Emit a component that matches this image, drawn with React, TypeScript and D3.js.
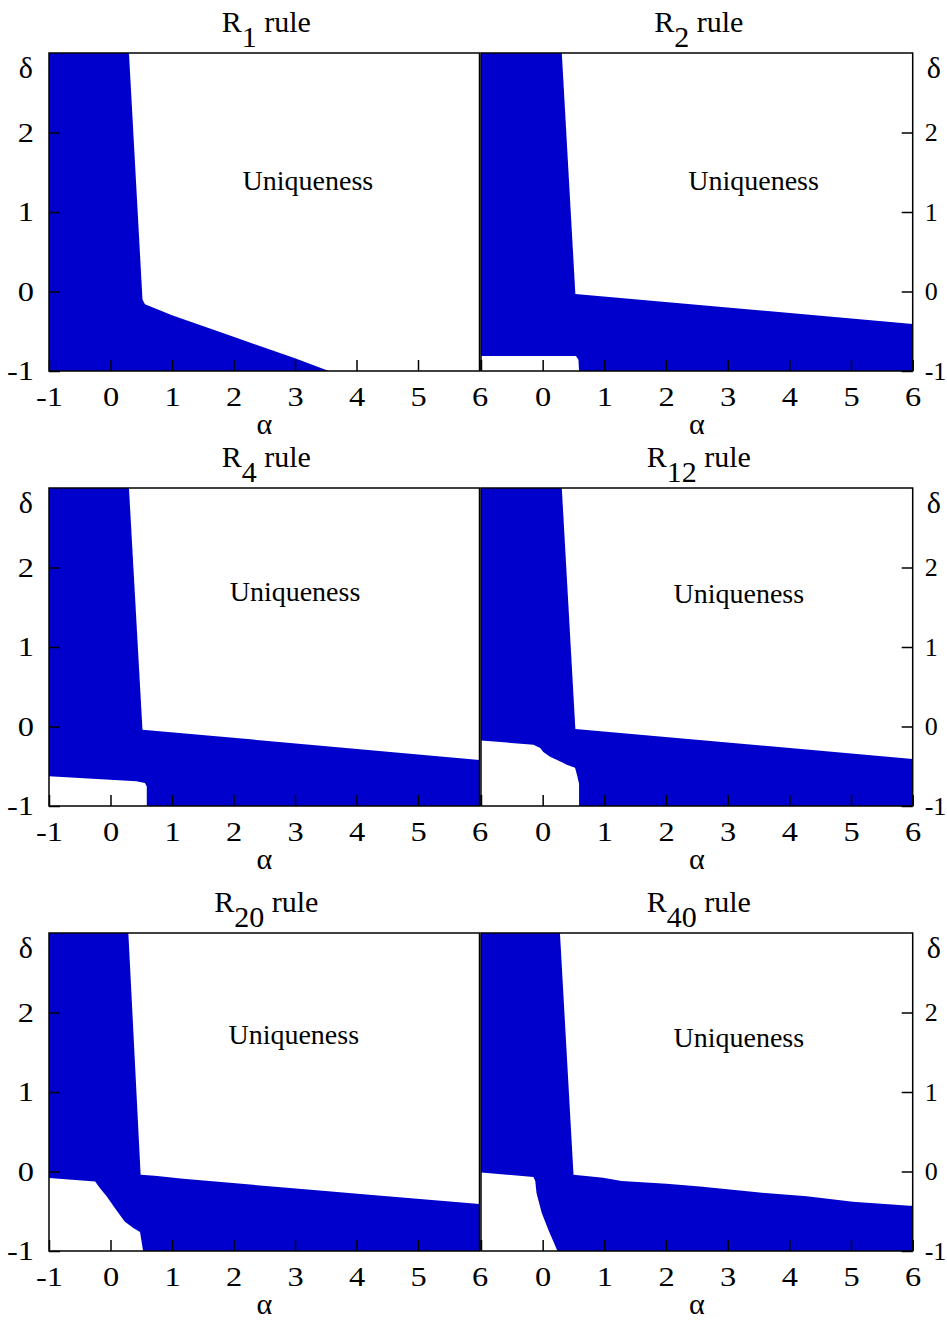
import React, { useEffect, useRef } from "react";
import * as d3 from "d3";

// axis ticks (alpha on x, delta on y)
const xTicks = [-1, 0, 1, 2, 3, 4, 5, 6];
const yTicks = [-1, 0, 1, 2];

// upper edge of the non-uniqueness (blue) band, from top of plot down to the right/bottom edge
const r1Boundary = [[0.30, 3], [0.52, -0.10], [0.56, -0.16], [1.0, -0.30], [2.0, -0.57], [3.0, -0.84], [3.55, -1]];
const r2Boundary = [[0.31, 3], [0.53, -0.03], [6, -0.41]];
const r4Boundary = [[0.30, 3], [0.52, -0.04], [6, -0.42]];
const r12Boundary = [[0.31, 3], [0.53, -0.03], [6, -0.41]];
const r20Boundary = [[0.29, 3], [0.49, -0.04], [0.72, -0.055], [1.18, -0.09], [1.99, -0.146], [3.40, -0.24], [4.16, -0.29], [6, -0.41]];
const r40Boundary = [[0.28, 3], [0.50, -0.04], [0.98, -0.08], [1.28, -0.12], [2.01, -0.155], [2.55, -0.19], [3.52, -0.265], [4.28, -0.31], [5.03, -0.38], [5.95, -0.43], [6, -0.43]];

// white pocket in the lower-left corner (from left edge to bottom edge)
const r2Pocket = [[-1, -0.81], [0.54, -0.81], [0.58, -0.86], [0.59, -1]];
const r4Pocket = [[-1, -0.625], [0.42, -0.69], [0.56, -0.71], [0.59, -0.755], [0.59, -1]];
const r12Pocket = [[-1, -0.176], [-0.15, -0.23], [-0.04, -0.27], [0.01, -0.32], [0.12, -0.38], [0.26, -0.43], [0.39, -0.48], [0.525, -0.52], [0.56, -0.62], [0.59, -0.72], [0.59, -1]];
const r20Pocket = [[-1, -0.083], [-0.25, -0.126], [-0.17, -0.21], [-0.06, -0.315], [0.07, -0.46], [0.23, -0.63], [0.37, -0.71], [0.48, -0.76], [0.53, -1]];
const r40Pocket = [[-1, -0.013], [-0.15, -0.07], [-0.12, -0.12], [-0.10, -0.27], [-0.016, -0.52], [0.09, -0.73], [0.24, -1]];

const panels = [
  { sub: "1", boundary: r1Boundary, pocket: null, label: [3.21, 1.28], col: 0, row: 0 },
  { sub: "2", boundary: r2Boundary, pocket: r2Pocket, label: [3.42, 1.28], col: 1, row: 0 },
  { sub: "4", boundary: r4Boundary, pocket: r4Pocket, label: [3.0, 1.58], col: 0, row: 1 },
  { sub: "12", boundary: r12Boundary, pocket: r12Pocket, label: [3.18, 1.55], col: 1, row: 1 },
  { sub: "20", boundary: r20Boundary, pocket: r20Pocket, label: [2.98, 1.61], col: 0, row: 2 },
  { sub: "40", boundary: r40Boundary, pocket: r40Pocket, label: [3.18, 1.56], col: 1, row: 2 },
];

const colX = [[49, 479.5], [481, 912.7]];
const rowY = [[53, 371], [488, 806], [933, 1251]];
const BLUE = "#0000cd";
const FONT = "'Liberation Serif', 'Times New Roman', serif";

export default function App() {
  const ref = useRef<SVGSVGElement>(null);

  useEffect(() => {
    const svg = d3.select(ref.current);
    svg.selectAll("*").remove();

    panels.forEach(p => {
      const [x0, x1] = colX[p.col];
      const [y0, y1] = rowY[p.row];
      const x = d3.scaleLinear().domain([-1, 6]).range([x0, x1]);
      const y = d3.scaleLinear().domain([-1, 3]).range([y1, y0]);
      const line = d3.line<number[]>().x(d => x(d[0])).y(d => y(d[1]));
      const g = svg.append("g");

      g.append("rect").attr("x", x0).attr("y", y0).attr("width", x1 - x0).attr("height", y1 - y0).attr("fill", BLUE);

      const last = p.boundary[p.boundary.length - 1];
      const uniq = [...p.boundary, [6, last[1]], [6, 3]];
      g.append("path").attr("d", line(uniq) + "Z").attr("fill", "#fff");
      if (p.pocket) {
        g.append("path").attr("d", line([...p.pocket, [-1, -1]]) + "Z").attr("fill", "#fff");
      }

      // x axis
      const left = p.col === 0;
      g.append("g")
        .attr("transform", `translate(0,${y1})`)
        .call(d3.axisBottom(x).tickValues(xTicks).tickSize(-11).tickSizeOuter(0).tickPadding(16)
          .tickFormat(d => (!left && d === -1 ? "" : String(d))))
        .call(a => a.select(".domain").remove())
        .call(a => a.selectAll("line").attr("stroke-width", 1.5))
        .call(a => a.selectAll("text").attr("font-family", FONT).attr("font-size", 27)
          .attr("transform", "scale(1.2,1)").attr("x", 0).attr("fill", "#000"));

      // y axis
      const yAxis = left ? d3.axisLeft(y) : d3.axisRight(y);
      const sx = left ? 1.2 : 1.0;
      g.append("g")
        .attr("transform", `translate(${left ? x0 : x1},0)`)
        .call(yAxis.tickValues(yTicks).tickSize(-11).tickSizeOuter(0).tickPadding(left ? 15 : 12).tickFormat(d => String(d)))
        .call(a => a.select(".domain").remove())
        .call(a => a.selectAll("line").attr("stroke-width", 1.5))
        .call(a => a.selectAll("text").attr("font-family", FONT).attr("font-size", left ? 27 : 26)
          .attr("transform", `scale(${sx},1)`).attr("x", (left ? -15 : 12) / sx).attr("fill", "#000"));

      g.append("rect").attr("x", x0).attr("y", y0).attr("width", x1 - x0).attr("height", y1 - y0)
        .attr("fill", "none").attr("stroke", "#000").attr("stroke-width", 1.5);

      // title
      const t = g.append("text").attr("x", (x0 + x1) / 2 + 2).attr("y", y0 - 21)
        .attr("text-anchor", "middle").attr("font-family", FONT).attr("font-size", 30);
      t.append("tspan").text("R");
      t.append("tspan").attr("dy", 15).text(p.sub);
      t.append("tspan").attr("dy", -15).text(" rule");

      g.append("text").attr("x", x(p.label[0])).attr("y", y(p.label[1]))
        .attr("text-anchor", "middle").attr("font-family", FONT).attr("font-size", 28).text("Uniqueness");

      g.append("text").attr("x", (x0 + x1) / 2).attr("y", y1 + 63)
        .attr("text-anchor", "middle").attr("font-family", FONT).attr("font-size", 30).text("α");

      g.append("text").attr("x", left ? x0 - 16 : x1 + 14).attr("y", y0 + 25)
        .attr("text-anchor", left ? "end" : "start").attr("font-family", FONT).attr("font-size", 30).text("δ");
    });
  }, []);

  return (
    <svg ref={ref} width={947} height={1323}
      style={{ position: "absolute", left: 0, top: 0, background: "#fff" }} />
  );
}
